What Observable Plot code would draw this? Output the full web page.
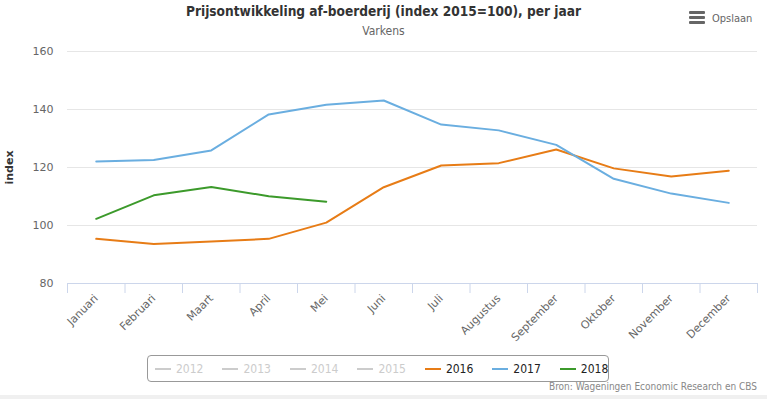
<!DOCTYPE html>
<html>
<head>
<meta charset="utf-8">
<script src="https://cdn.jsdelivr.net/npm/d3@7"></script>
<script src="https://cdn.jsdelivr.net/npm/@observablehq/plot@0.6"></script>
<style>
  html, body { margin: 0; padding: 0; background: #fff; }
  #wrap { position: relative; width: 767px; height: 399px; overflow: hidden; font-family: "DejaVu Sans Condensed", "DejaVu Sans", sans-serif; }
  #chart { position: absolute; left: 0; top: 0; }
  .title { position: absolute; left: 0; width: 767px; top: 3px; text-align: center; font-weight: bold; font-size: 13.6px; color: #333; }
  .subtitle { position: absolute; left: 0; width: 767px; top: 24px; text-align: center; font-size: 12px; color: #666; }
  .menu { position: absolute; left: 689px; top: 11px; width: 16px; }
  .menu div { height: 3px; background: #666; margin-bottom: 2px; border-radius: 1px; }
  .opslaan { position: absolute; left: 712px; top: 12px; font-size: 11px; color: #666; }
  .legend { position: absolute; left: 147px; top: 355px; width: 462px; height: 27px; border: 1px solid #999; border-radius: 4px; box-sizing: border-box; display: flex; align-items: center; padding-left: 7px; font-size: 12px; }
  .item { display: flex; align-items: center; margin-right: 19px; }
  .item .sw { width: 16px; height: 2px; margin-right: 5px; }
  .credit { position: absolute; right: 10px; top: 381px; font-size: 10px; color: #888; }
  .strip { position: absolute; left: 0; top: 395px; width: 767px; height: 4px; background: #f0f0f0; }
  svg g[aria-label="y-axis label"] text { font-weight: bold; fill: #333; }
</style>
</head>
<body>
<div id="wrap">
  <div id="chart"></div>
  <div class="title">Prijsontwikkeling af-boerderij (index 2015=100), per jaar</div>
  <div class="subtitle">Varkens</div>
  <div class="menu"><div></div><div></div><div></div></div>
  <div class="opslaan">Opslaan</div>
  <div class="legend" id="legend"></div>
  <div class="credit">Bron: Wageningen Economic Research en CBS</div>
  <div class="strip"></div>
</div>
<script>
const months = ["Januari","Februari","Maart","April","Mei","Juni","Juli","Augustus","September","Oktober","November","December"];
const v2016 = [95.4, 93.6, 94.5, 95.4, 101.0, 113.2, 120.7, 121.5, 126.2, 119.7, 116.9, 118.9];
const v2017 = [122.1, 122.6, 125.9, 138.3, 141.6, 143.1, 134.8, 132.8, 127.8, 116.1, 111.0, 107.8];
const v2018 = [102.3, 110.4, 113.3, 110.1, 108.2];
const shownYears = ["2016", "2017", "2018"];
const hiddenYears = ["2012", "2013", "2014", "2015"];
const yearColors = ["#e77c16", "#6aaee0", "#3c9a2b"];
const yTicks = [80, 100, 120, 140, 160];

const series = [v2016, v2017, v2018];
const rows = [];
series.forEach((vals, s) => vals.forEach((v, i) => rows.push({month: months[i], value: v, year: shownYears[s]})));

const W = 767, H = 399, mL = 67, mR = 10, mT = 51, mB = 116;
const step = (W - mL - mR) / months.length;

const chart = Plot.plot({
  width: W, height: H,
  marginTop: mT, marginBottom: mB, marginLeft: mL, marginRight: mR,
  style: {fontFamily: "'DejaVu Sans', sans-serif", fontSize: "11px", background: "transparent"},
  x: {type: "point", domain: months, padding: 0.5, round: false, label: null},
  y: {domain: [80, 160], label: "index"},
  color: {domain: shownYears, range: yearColors},
  marks: [
    Plot.gridY(yTicks.slice(1), {stroke: "#e6e6e6", strokeOpacity: 1}),
    Plot.ruleY([80], {stroke: "#ccd6eb"}),
    Plot.ruleX(months, {x: d => d, y1: 80, y2: 80, insetBottom: -10, dx: -step / 2, stroke: "#ccd6eb"}),
    Plot.ruleX([months[months.length - 1]], {x: d => d, y1: 80, y2: 80, insetBottom: -10, dx: step / 2, stroke: "#ccd6eb"}),
    Plot.axisY(yTicks, {tickSize: 0, tickPadding: 14, fill: "#666", label: "index", labelAnchor: "center", labelArrow: "none", labelOffset: 62}),
    Plot.axisX({tickSize: 0, tickPadding: 13, tickRotate: -45, fill: "#666", label: null}),
    Plot.line(rows, {x: "month", y: "value", stroke: "year", strokeWidth: 2})
  ]
});
document.getElementById("chart").appendChild(chart);

const legend = document.getElementById("legend");
hiddenYears.forEach(y => {
  const it = document.createElement("div"); it.className = "item";
  it.innerHTML = `<div class="sw" style="background:#ccc"></div><span style="color:#ccc">${y}</span>`;
  legend.appendChild(it);
});
shownYears.forEach((y, i) => {
  const it = document.createElement("div"); it.className = "item";
  it.innerHTML = `<div class="sw" style="background:${yearColors[i]}"></div><span style="color:#222">${y}</span>`;
  legend.appendChild(it);
});
</script>
</body>
</html>
